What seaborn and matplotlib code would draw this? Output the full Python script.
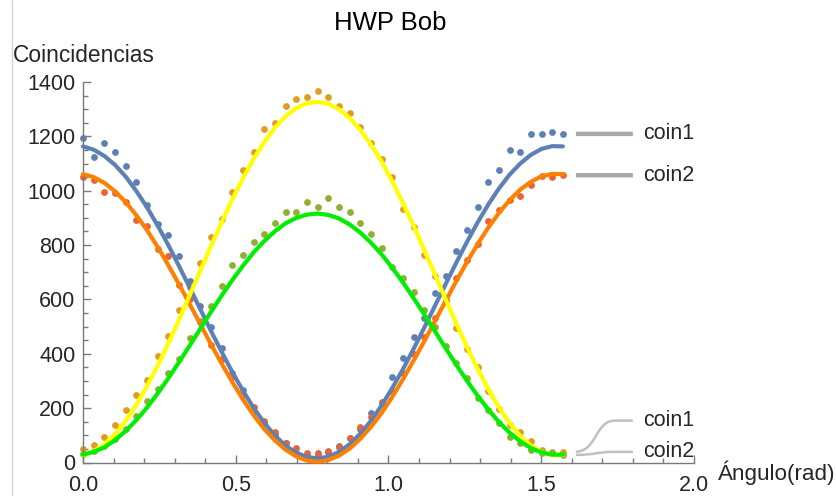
import matplotlib
matplotlib.use("Agg")
import matplotlib.pyplot as plt
import matplotlib.transforms as mtransforms
import seaborn as sns
import numpy as np
from matplotlib.lines import Line2D
from matplotlib.patches import PathPatch
from matplotlib.path import Path
from matplotlib.ticker import MultipleLocator, FormatStrFormatter

# angles of the half-wave plate (degrees), plotted in radians
ANGLE_DEG = [0, 2, 4, 6, 8, 10, 12, 14, 16, 18, 20, 22, 24, 26, 28, 30,
             32, 34, 36, 38, 40, 42, 44, 46, 48, 50, 52, 54, 56, 58, 60,
             62, 64, 66, 68, 70, 72, 74, 76, 78, 80, 82, 84, 86, 88, 90]

# measured coincidences, first group (top right labels)
COIN1_A = [1193, 1125, 1177, 1142, 1091, 1032, 947, 879, 838, 761,
           668, 575, 499, 422, 330, 265, 187, 147, 101, 70,
           36, 28, 28, 37, 62, 89, 122, 181, 224, 316,
           383, 463, 533, 625, 686, 778, 855, 941, 1032, 1076,
           1150, 1142, 1209, 1209, 1217, 1209]
COIN2_A = [1049, 1039, 996, 990, 957, 894, 870, 787, 761, 652,
           601, 517, 432, 382, 315, 250, 205, 154, 111, 70,
           54, 35, 35, 43, 58, 89, 130, 167, 220, 264,
           330, 399, 463, 531, 598, 678, 745, 804, 890, 929,
           966, 981, 1021, 1054, 1049, 1057]

# measured coincidences, second group (bottom right labels)
COIN1_B = [50, 63, 93, 139, 195, 247, 305, 391, 464, 560,
           646, 734, 830, 895, 996, 1078, 1143, 1226, 1250, 1312,
           1336, 1346, 1368, 1346, 1312, 1285, 1236, 1177, 1115, 1049,
           931, 865, 764, 686, 596, 494, 416, 350, 264, 196,
           138, 113, 80, 46, 40, 40]
COIN2_B = [30, 42, 60, 87, 124, 170, 228, 271, 330, 380,
           458, 520, 575, 651, 725, 763, 813, 840, 880, 923,
           923, 957, 939, 974, 939, 923, 880, 840, 788, 721,
           678, 629, 560, 497, 429, 365, 310, 236, 193, 144,
           95, 70, 46, 34, 34, 28]

# fitted curves read at the same angles
FIT1_A = [1163, 1151, 1128, 1095, 1052, 999, 939, 872, 800, 723,
          644, 564, 484, 407, 333, 264, 201, 146, 99, 62,
          36, 20, 15, 21, 39, 67, 106, 153, 210, 274,
          343, 418, 496, 576, 656, 735, 811, 883, 949, 1008,
          1059, 1100, 1132, 1154, 1164, 1163]
FIT2_A = [1061, 1050, 1029, 998, 958, 910, 855, 793, 726, 656,
          583, 509, 435, 364, 296, 232, 174, 123, 81, 47,
          22, 7, 3, 9, 25, 51, 87, 131, 182, 241,
          306, 375, 446, 520, 594, 667, 737, 803, 864, 918,
          965, 1004, 1033, 1053, 1062, 1061]
FIT1_B = [27, 41, 67, 104, 153, 212, 281, 356, 438, 525,
          615, 706, 796, 884, 968, 1046, 1117, 1179, 1232, 1274,
          1304, 1322, 1327, 1320, 1300, 1268, 1224, 1170, 1107, 1034,
          955, 871, 782, 692, 601, 512, 426, 345, 270, 203,
          145, 98, 62, 38, 26, 27]
FIT2_B = [29, 39, 56, 82, 116, 156, 202, 254, 310, 369,
          430, 492, 554, 614, 671, 724, 773, 815, 851, 880,
          900, 912, 916, 911, 898, 876, 846, 809, 766, 716,
          663, 605, 545, 483, 421, 360, 301, 246, 195, 149,
          110, 78, 53, 37, 29, 29]

DOT_COLORS = ["#5E81B5", "#EB6235", "#E19C24", "#8FB032"]
LINE_COLORS = ["#5E81B5", "#FF8000", "#FFFF00", "#00EE00"]
TEXT_COLOR = "#262626"
AXIS_COLOR = "#7a7a7a"
FS = 15.5


def callout(ax, x, y, label, rise, lw, color):
    # leader line in inches, measured from the last data point
    fig = ax.figure
    trans = fig.dpi_scale_trans + mtransforms.ScaledTranslation(x, y, ax.transData)
    verts = [(0.13, 0), (0.34, 0), (0.32, rise), (0.52, rise), (0.70, rise)]
    codes = [Path.MOVETO, Path.CURVE4, Path.CURVE4, Path.CURVE4, Path.LINETO]
    ax.add_patch(PathPatch(Path(verts, codes), transform=trans, fill=False,
                           edgecolor=color, lw=lw, clip_on=False, capstyle="butt"))
    ax.text(0.80, rise, label, transform=trans, ha="left", va="center",
            fontsize=FS, color=TEXT_COLOR)


def main():
    sns.set_theme(style="ticks")
    plt.rcParams["font.family"] = ["Liberation Sans", "DejaVu Sans"]

    fig = plt.figure(figsize=(8.37, 4.96), dpi=100)
    ax = fig.add_axes([83 / 837, (496 - 462.5) / 496, 611 / 837, 380.5 / 496])

    angle = np.deg2rad(ANGLE_DEG)
    dots = [COIN1_A, COIN2_A, COIN1_B, COIN2_B]
    fits = [FIT1_A, FIT2_A, FIT1_B, FIT2_B]

    for vals, c in zip(dots, DOT_COLORS):
        sns.scatterplot(x=angle, y=vals, color=c, s=24, linewidth=0, ax=ax,
                        zorder=2, clip_on=False)
    for vals, c in zip(fits, LINE_COLORS):
        sns.lineplot(x=angle, y=vals, color=c, linewidth=3, ax=ax, zorder=3,
                     clip_on=False)

    ax.set_xlim(0, 2.0)
    ax.set_ylim(0, 1400)
    ax.set_xlabel("")
    ax.set_ylabel("")
    ax.xaxis.set_major_locator(MultipleLocator(0.5))
    ax.xaxis.set_minor_locator(MultipleLocator(0.1))
    ax.xaxis.set_major_formatter(FormatStrFormatter("%.1f"))
    ax.yaxis.set_major_locator(MultipleLocator(200))
    ax.yaxis.set_minor_locator(MultipleLocator(50))

    for side in ["top", "right"]:
        ax.spines[side].set_visible(False)
    for side in ["left", "bottom"]:
        ax.spines[side].set_color(AXIS_COLOR)
        ax.spines[side].set_linewidth(1.0)

    ax.tick_params(which="both", direction="in", color=AXIS_COLOR, width=1.0,
                   labelsize=FS, labelcolor=TEXT_COLOR)
    ax.tick_params(which="major", length=6)
    ax.tick_params(which="minor", length=3.5)
    ax.tick_params(axis="x", which="major", pad=8.8)
    ax.tick_params(axis="y", which="major", pad=5.5)

    # callout labels at the end of each data set
    x_end = angle[-1]
    callout(ax, x_end, COIN1_A[-1], "coin1", 0.0, 3.2, "#a8a8a8")
    callout(ax, x_end, COIN2_A[-1], "coin2", 0.0, 3.2, "#a8a8a8")
    callout(ax, x_end, COIN1_B[-1], "coin1", 0.31, 1.8, "#c0c0c0")
    callout(ax, x_end, COIN2_B[-1], "coin2", 0.03, 1.8, "#c0c0c0")

    fig.text(390.5 / 837, 1 - 30 / 496, "HWP Bob", ha="center", va="baseline",
             fontsize=18.5, color="black")
    fig.text(13 / 837, 1 - 61.5 / 496, "Coincidencias", ha="left", va="baseline",
             fontsize=16.4, color=TEXT_COLOR)
    fig.text(718 / 837, 1 - 480 / 496, "Ángulo(rad)", ha="left", va="baseline",
             fontsize=16.1, color=TEXT_COLOR)

    # faint frame line at the left edge of the screenshot
    fig.add_artist(Line2D([12 / 837, 12 / 837], [0, 1], transform=fig.transFigure,
                          color="#d6d6d6", lw=1))

    fig.savefig("out.png", dpi=100)


if __name__ == "__main__":
    main()
